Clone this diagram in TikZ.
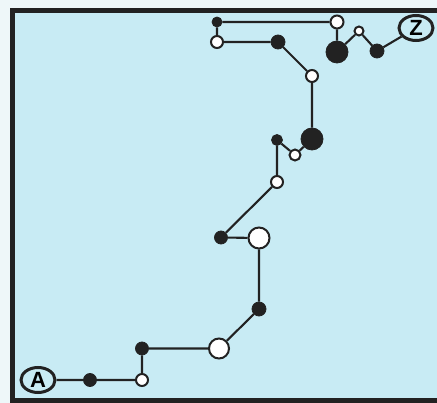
\documentclass[tikz,border=0pt]{standalone}
\usepackage{fontspec}
\newfontfamily\labelfont{Liberation Sans}
\definecolor{ink}{HTML}{222222}
\definecolor{water}{HTML}{C8EBF4}
\definecolor{paper}{HTML}{EEF7F9}
\usetikzlibrary{shapes.geometric}
\tikzset{
  dot/.style={circle, fill=ink, draw=ink, line width=0.8pt, inner sep=0pt, minimum size=#1},
  ring/.style={circle, fill=white, draw=ink, line width=2pt, inner sep=0pt, minimum size=#1},
  endmark/.style={ellipse, draw=ink, line width=3pt, inner sep=0pt,
    minimum width=34pt, minimum height=25pt, font=\labelfont\bfseries\fontsize{22}{22}\selectfont},
  link/.style={draw=ink, line width=2.1pt},
}
\begin{document}
\begin{tikzpicture}[x=1pt, y=-1pt]
  \useasboundingbox (0,0) rectangle (437,403);
  \fill[paper] (0,0) rectangle (437,403);
  \fill[water] (12.5,10.5) rectangle (437,400.5);
  \draw[ink, line width=5pt] (437,10.5) -- (12.5,10.5) -- (12.5,400.5) -- (437,400.5);

  % route from A to Z
  \node[endmark] (A) at (38,380) {A};
  \node[dot=13pt]  (n1)  at (90,380) {};
  \node[ring=12pt] (n2)  at (142,380) {};
  \node[dot=13pt]  (n3)  at (142,348.5) {};
  \node[ring=20pt] (n4)  at (219,348.5) {};
  \node[dot=14pt]  (n5)  at (259,309) {};
  \node[ring=21pt] (n6)  at (259,238) {};
  \node[dot=13pt]  (n7)  at (221,237.5) {};
  \node[ring=12pt] (n8)  at (277,182) {};
  \node[dot=11pt]  (n9)  at (277,140) {};
  \node[ring=11pt] (n10) at (295,155) {};
  \node[dot=22pt]  (n11) at (312,139) {};
  \node[ring=12pt] (n12) at (312,76) {};
  \node[dot=14pt]  (n13) at (278,42) {};
  \node[ring=12pt] (n14) at (217,42) {};
  \node[dot=10pt]  (n15) at (217,22) {};
  \node[ring=13pt] (n16) at (337,22) {};
  \node[dot=22pt]  (n17) at (337,52) {};
  \node[ring=9pt]  (n18) at (359,31) {};
  \node[dot=14pt]  (n19) at (377,51) {};
  \node[endmark] (Z) at (416,28) {Z};

  \path[link] (A) -- (n1) -- (n2) -- (n3) -- (n4) -- (n5) -- (n6) -- (n7)
    -- (n8) -- (n9) -- (n10) -- (n11) -- (n12) -- (n13) -- (n14) -- (n15)
    -- (n16) -- (n17) -- (n18) -- (n19) -- (Z);
\end{tikzpicture}
\end{document}
